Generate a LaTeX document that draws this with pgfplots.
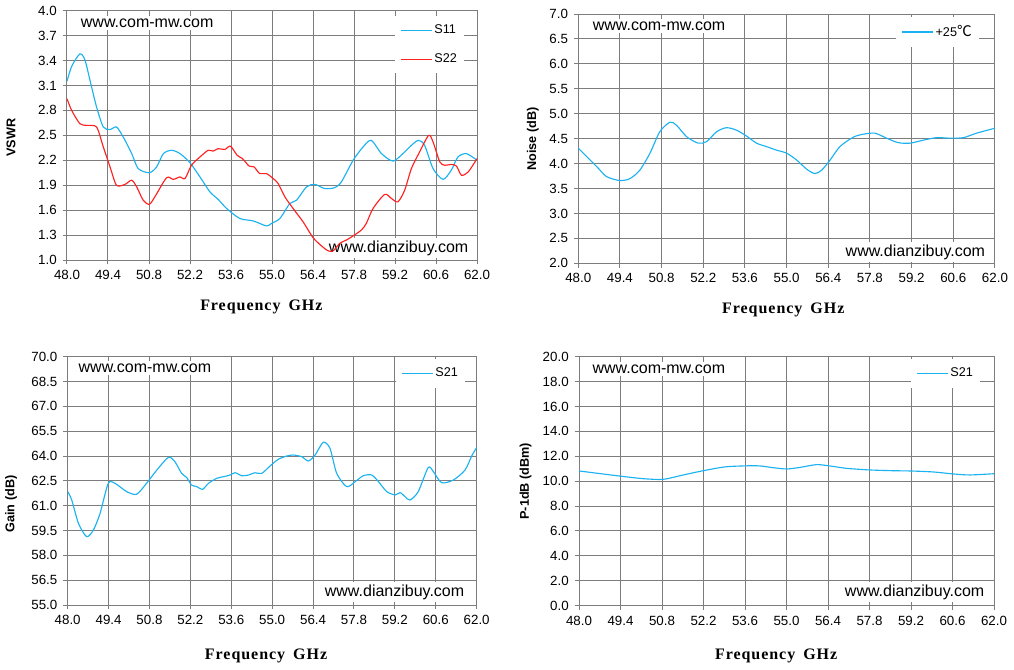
\documentclass[border=0pt]{standalone}
\usepackage{pgfplots}
\pgfplotsset{compat=1.18}
\usepackage{fontspec}
\setmainfont{Liberation Sans}
\newfontfamily\labfont[LetterSpace=6]{Liberation Serif}
\newfontfamily\cjk{Noto Sans CJK SC}
\definecolor{cblue}{HTML}{1AB2F0}
\definecolor{cred}{HTML}{FF2020}
\definecolor{cgrid}{HTML}{7D7D7D}
\tikzset{wm/.style={fill=white, inner xsep=1pt, inner ysep=2pt, anchor=west, font=\fontsize{12pt}{14pt}\selectfont}}
\pgfplotsset{
  every axis/.append style={
    scale only axis,
    xmin=48, xmax=62,
    xtick={48.0,49.4,50.8,52.2,53.6,55.0,56.4,57.8,59.2,60.6,62.0},
    /pgf/number format/fixed,
    /pgf/number format/fixed zerofill,
    /pgf/number format/precision=1,
    /pgf/number format/assume math mode=true,
    grid=major,
    major grid style={cgrid, line width=0.75pt},
    axis line style={cgrid, line width=0.75pt},
    every tick/.style={cgrid, line width=0.75pt},
    tick align=outside,
    major tick length=3.2pt,
    tick pos=left,
    ticklabel style={font=\fontsize{10pt}{12pt}\selectfont},
    xticklabel style={yshift=-1pt},
    yticklabel style={xshift=-1pt},
    xlabel={\labfont\bfseries\fontsize{12pt}{14pt}\selectfont Frequency\hspace{0.5em}GHz},
    ylabel style={anchor=center, font=\bfseries\fontsize{9.5pt}{11pt}\selectfont},
    legend cell align=left,
    legend style={draw=none, fill=white, font=\fontsize{9.5pt}{11pt}\selectfont,
      inner xsep=4pt, inner ysep=5pt, row sep=10.5pt,
      nodes={inner xsep=1.5pt, inner ysep=1.5pt}, anchor=north west},
    legend image code/.code={\draw[#1, line width=0.85pt] (0pt,0pt) -- (23pt,0pt);},
    every axis plot/.append style={line width=0.85pt, smooth, tension=0.45, no marks},
  },
}
\begin{document}
\begin{tikzpicture}
\path[use as bounding box] (0,0) rectangle (760.5pt,-501.75pt);

% ---------------- Panel 1: VSWR
\begin{axis}[
  at={(50.25pt,-8pt)}, anchor=north west,
  width=307.5pt, height=187pt,
  ymin=1, ymax=4, ytick={1.0,1.3,1.6,1.9,2.2,2.5,2.8,3.1,3.4,3.7,4.0},
  ylabel={VSWR},
  ylabel style={at={(axis description cs:-0.1366,0.49)}},
  xlabel style={at={(axis description cs:0.474,0)}, anchor=center, yshift=-35.25pt},
  legend style={at={(axis description cs:0.80,0.979)}},
]
\node[wm] at (rel axis cs:0.030,0.951) {www.com-mw.com};
\node[wm] at (rel axis cs:0.635,0.047) {www.dianzibuy.com};
\addplot[cblue] coordinates {
(48.00,3.15)(48.16,3.33)(48.44,3.48)(48.61,3.41)(48.78,3.17)(49.01,2.84)(49.24,2.60)
(49.47,2.57)(49.69,2.60)(49.92,2.48)(50.21,2.28)(50.43,2.10)(50.81,2.05)(51.06,2.12)
(51.29,2.28)(51.57,2.32)(51.86,2.28)(52.20,2.17)(52.54,2.00)(52.88,1.82)(53.16,1.73)
(53.45,1.62)(53.90,1.50)(54.36,1.47)(54.81,1.41)(54.98,1.44)(55.27,1.50)(55.61,1.68)
(55.84,1.72)(56.18,1.88)(56.46,1.91)(56.80,1.86)(57.14,1.87)(57.37,1.94)(57.77,2.20)
(58.11,2.36)(58.39,2.44)(58.74,2.28)(59.13,2.19)(59.47,2.28)(59.70,2.36)(59.99,2.44)
(60.21,2.38)(60.50,2.10)(60.84,1.97)(61.12,2.08)(61.35,2.24)(61.64,2.28)(62.00,2.20)
};
\addlegendentry{S11}
\addplot[cred] coordinates {
(48.00,2.94)(48.16,2.80)(48.44,2.64)(48.67,2.62)(49.01,2.60)(49.24,2.36)(49.47,2.12)
(49.69,1.90)(49.98,1.91)(50.21,1.96)(50.38,1.88)(50.60,1.72)(50.81,1.67)(51.00,1.76)
(51.40,1.99)(51.63,1.97)(51.86,2.00)(52.03,1.98)(52.25,2.14)(52.54,2.24)(52.82,2.32)
(52.99,2.31)(53.16,2.34)(53.39,2.33)(53.58,2.37)(53.81,2.26)(53.99,2.22)(54.22,2.13)
(54.39,2.12)(54.58,2.04)(54.81,2.04)(55.04,1.98)(55.21,1.92)(55.44,1.76)(55.72,1.62)
(56.06,1.46)(56.40,1.27)(56.69,1.17)(56.92,1.11)(57.09,1.11)(57.31,1.20)(57.54,1.24)
(57.77,1.29)(58.05,1.36)(58.22,1.44)(58.45,1.62)(58.85,1.79)(59.08,1.74)(59.30,1.70)
(59.53,1.84)(59.76,2.10)(60.04,2.30)(60.35,2.50)(60.50,2.42)(60.73,2.18)(60.90,2.14)
(61.12,2.15)(61.30,2.13)(61.47,2.02)(61.70,2.06)(62.00,2.22)
};
\addlegendentry{S22}
\end{axis}

% ---------------- Panel 2: Noise
\begin{axis}[
  at={(433.7pt,-10.5pt)}, anchor=north west,
  width=312.5pt, height=187pt,
  ymin=2, ymax=7, ytick={2.0,2.5,3.0,3.5,4.0,4.5,5.0,5.5,6.0,6.5,7.0},
  ylabel={Noise (dB)},
  ylabel style={at={(axis description cs:-0.1088,0.498)}},
  xlabel style={at={(axis description cs:0.492,0)}, anchor=center, yshift=-35.25pt},
  legend style={at={(axis description cs:0.763,0.99)}},
]
\node[wm] at (rel axis cs:0.031,0.952) {www.com-mw.com};
\node[wm] at (rel axis cs:0.638,0.045) {www.dianzibuy.com};
\addplot[cblue] coordinates {
(48.00,4.31)(48.62,3.94)(48.95,3.74)(49.40,3.66)(49.74,3.70)(50.07,3.87)(50.41,4.21)
(50.74,4.64)(51.08,4.83)(51.30,4.77)(51.64,4.54)(52.03,4.41)(52.31,4.44)(52.65,4.64)
(52.98,4.72)(53.32,4.67)(53.66,4.55)(53.99,4.41)(54.33,4.34)(54.66,4.27)(55.00,4.21)
(55.34,4.07)(55.67,3.89)(55.95,3.80)(56.18,3.87)(56.46,4.07)(56.79,4.34)(57.24,4.53)
(57.58,4.59)(57.97,4.61)(58.36,4.51)(58.75,4.42)(59.15,4.41)(59.59,4.47)(60.04,4.52)
(60.49,4.51)(60.94,4.52)(61.38,4.61)(62.00,4.71)
};
\addlegendentry{+25{\cjk\fontsize{11pt}{12pt}\selectfont ℃}}
\end{axis}

% ---------------- Panel 3: Gain
\begin{axis}[
  at={(50.75pt,-267.5pt)}, anchor=north west,
  width=306.75pt, height=186.25pt,
  ymin=55, ymax=70, ytick={55.0,56.5,58.0,59.5,61.0,62.5,64.0,65.5,67.0,68.5,70.0},
  ylabel={Gain (dB)},
  ylabel style={at={(axis description cs:-0.1385,0.407)}},
  xlabel style={at={(axis description cs:0.485,0)}, anchor=center, yshift=-38pt},
  legend style={at={(axis description cs:0.803,0.99)}},
]
\node[wm] at (rel axis cs:0.023,0.954) {www.com-mw.com};
\node[wm] at (rel axis cs:0.625,0.052) {www.dianzibuy.com};
\addplot[cblue] coordinates {
(48.00,61.85)(48.14,61.34)(48.37,59.93)(48.65,59.13)(48.88,59.53)(49.11,60.54)(49.39,62.35)
(49.62,62.35)(50.02,61.85)(50.36,61.69)(50.70,62.35)(51.05,63.15)(51.45,63.92)(51.67,63.66)
(51.90,62.95)(52.07,62.71)(52.24,62.25)(52.42,62.15)(52.62,61.99)(52.82,62.35)(53.10,62.65)
(53.33,62.75)(53.56,62.85)(53.73,62.99)(53.96,62.81)(54.19,62.85)(54.41,62.99)(54.64,62.95)
(54.93,63.40)(55.21,63.80)(55.50,64.00)(55.72,64.06)(56.01,63.96)(56.24,63.70)(56.47,64.06)
(56.75,64.83)(56.98,64.46)(57.21,62.95)(57.55,62.15)(57.84,62.45)(58.12,62.81)(58.41,62.85)
(58.64,62.45)(58.92,61.85)(59.21,61.65)(59.38,61.79)(59.55,61.54)(59.72,61.34)(60.00,61.85)
(60.34,63.30)(60.52,63.05)(60.80,62.39)(61.20,62.55)(61.60,63.15)(61.83,64.00)(62.00,64.52)
};
\addlegendentry{S21}
\end{axis}

% ---------------- Panel 4: P-1dB
\begin{axis}[
  at={(434.25pt,-267.5pt)}, anchor=north west,
  width=311.25pt, height=186.75pt,
  ymin=0, ymax=20, ytick={0,2,4,6,8,10,12,14,16,18,20},
  ylabel={P-1dB (dBm)},
  ylabel style={at={(axis description cs:-0.1285,0.5)}},
  xlabel style={at={(axis description cs:0.475,0)}, anchor=center, yshift=-37.5pt},
  legend style={at={(axis description cs:0.8,0.99)}},
]
\node[wm] at (rel axis cs:0.029,0.951) {www.com-mw.com};
\node[wm] at (rel axis cs:0.637,0.055) {www.dianzibuy.com};
\addplot[cblue] coordinates {
(48.00,10.82)(49.38,10.41)(50.17,10.20)(50.84,10.15)(51.52,10.50)(52.19,10.84)(52.98,11.16)
(53.99,11.24)(54.56,11.08)(55.01,10.98)(55.46,11.11)(56.02,11.33)(56.47,11.22)(57.03,11.03)
(57.82,10.90)(58.60,10.84)(59.17,10.82)(59.95,10.74)(60.63,10.58)(61.19,10.50)(62.00,10.60)
};
\addlegendentry{S21}
\end{axis}
\end{tikzpicture}
\end{document}
